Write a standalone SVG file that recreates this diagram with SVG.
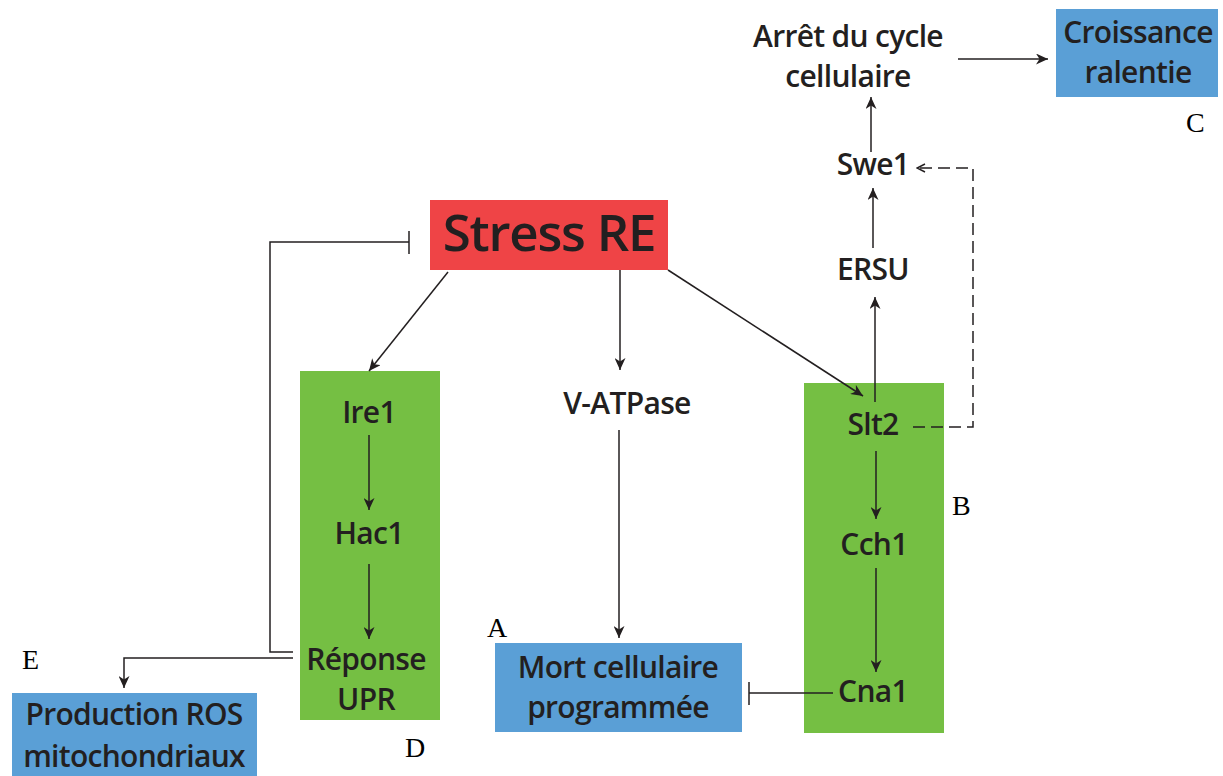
<svg xmlns="http://www.w3.org/2000/svg" width="1223" height="776" viewBox="0 0 1223 776">
<defs>
<style>
.t{font-family:"Open Sans","Noto Sans",sans-serif;font-weight:600;font-size:30px;letter-spacing:-0.7px;fill:#231F20;text-anchor:middle}
.big{font-size:51px;letter-spacing:-1.2px}
.lbl{font-family:"Liberation Serif",serif;font-size:28px;fill:#000}
.c{stroke:#231F20;stroke-width:1.5;fill:none}
.red{fill:#EF4446}
.green{fill:#75BF43}
.blue{fill:#5A9FD6}
</style>
<marker id="ah" markerUnits="userSpaceOnUse" markerWidth="12" markerHeight="11" refX="12" refY="5.5" orient="auto">
<path d="M0,0 L12,5.5 L0,11 L3.5,5.5 z" fill="#231F20"/>
</marker>
<marker id="oh" markerUnits="userSpaceOnUse" markerWidth="10" markerHeight="10" refX="9" refY="5" orient="auto">
<path d="M1,1 L9,5 L1,9" fill="none" stroke="#231F20" stroke-width="1.5"/>
</marker>
</defs>
<rect width="1223" height="776" fill="#fff"/>
<g id="stress"><rect class="red" x="430" y="200" width="238" height="70"/><text class="t big" x="549" y="251">Stress RE</text></g>
<g id="upr-box"><rect class="green" x="300" y="371" width="140" height="349"/></g>
<g id="ire1"><text class="t" x="369" y="423">Ire1</text></g>
<g id="hac1"><text class="t" x="369" y="544">Hac1</text></g>
<g id="reponse"><text class="t" x="366" y="670">Réponse</text><text class="t" x="366" y="710">UPR</text></g>
<g id="vatpase"><text class="t" x="627" y="414">V-ATPase</text></g>
<g id="mort"><rect class="blue" x="495" y="643" width="247" height="89"/><text class="t" x="618" y="678">Mort cellulaire</text><text class="t" x="618" y="718">programmée</text></g>
<g id="slt-box"><rect class="green" x="804" y="383" width="140" height="350"/></g>
<g id="slt2"><text class="t" x="873" y="435">Slt2</text></g>
<g id="cch1"><text class="t" x="874" y="555">Cch1</text></g>
<g id="cna1"><text class="t" x="873" y="702">Cna1</text></g>
<g id="ersu"><text class="t" x="873" y="280">ERSU</text></g>
<g id="swe1"><text class="t" x="873" y="175">Swe1</text></g>
<g id="arret"><text class="t" x="848" y="47">Arrêt du cycle</text><text class="t" x="848" y="87">cellulaire</text></g>
<g id="croissance"><rect class="blue" x="1056" y="9" width="162" height="88"/><text class="t" x="1138" y="43">Croissance</text><text class="t" x="1138" y="83">ralentie</text></g>
<g id="ros"><rect class="blue" x="12" y="693" width="245" height="90"/><text class="t" x="134" y="725">Production ROS</text><text class="t" x="134" y="767">mitochondriaux</text></g>
<g id="labels">
<text class="lbl" x="487" y="637">A</text>
<text class="lbl" x="952" y="515">B</text>
<text class="lbl" x="1186" y="132">C</text>
<text class="lbl" x="405" y="757">D</text>
<text class="lbl" x="22" y="669">E</text>
</g>
<g id="connectors">
<line class="c" x1="448" y1="272" x2="369" y2="371" marker-end="url(#ah)"/>
<line class="c" x1="620" y1="270" x2="620" y2="370" marker-end="url(#ah)"/>
<line class="c" x1="668" y1="270" x2="863" y2="396" marker-end="url(#ah)"/>
<line class="c" x1="369" y1="435" x2="369" y2="510" marker-end="url(#ah)"/>
<line class="c" x1="369" y1="564" x2="369" y2="639" marker-end="url(#ah)"/>
<polyline class="c" points="293,652 270,652 270,242 409,242"/>
<line class="c" x1="409" y1="231" x2="409" y2="254"/>
<polyline class="c" points="293,658 124,658 124,688" marker-end="url(#ah)"/>
<line class="c" x1="619" y1="430" x2="619" y2="638" marker-end="url(#ah)"/>
<line class="c" x1="875" y1="402" x2="875" y2="297" marker-end="url(#ah)"/>
<line class="c" x1="873" y1="248" x2="873" y2="188" marker-end="url(#ah)"/>
<line class="c" x1="871" y1="152" x2="871" y2="97" marker-end="url(#ah)"/>
<line class="c" x1="958" y1="59" x2="1048" y2="59" marker-end="url(#ah)"/>
<polyline class="c" points="913,427 973,427 973,168 917,168" stroke-dasharray="12,6" marker-end="url(#oh)"/>
<line class="c" x1="876" y1="451" x2="876" y2="519" marker-end="url(#ah)"/>
<line class="c" x1="876" y1="568" x2="876" y2="672" marker-end="url(#ah)"/>
<line class="c" x1="833" y1="693" x2="749" y2="693"/>
<line class="c" x1="749" y1="682" x2="749" y2="705"/>
</g>
</svg>
